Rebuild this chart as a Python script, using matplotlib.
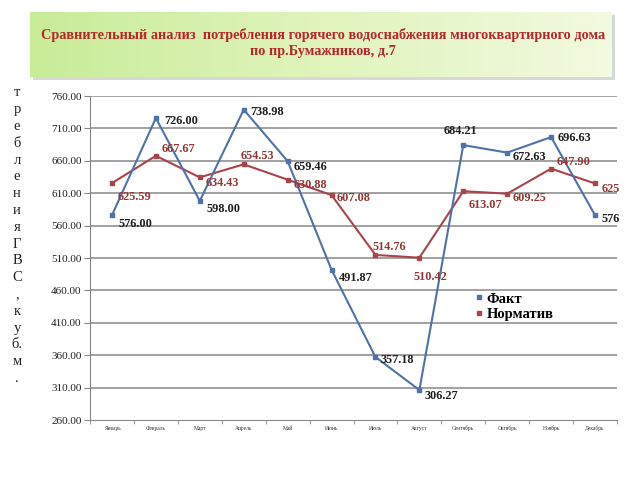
import numpy as np
import matplotlib
matplotlib.use('Agg')
import matplotlib.pyplot as plt
from matplotlib.patches import FancyBboxPatch

# ==============================
# Data
# ==============================
months = ['Январь', 'Февраль', 'Март', 'Апрель', 'Май', 'Июнь',
          'Июль', 'Август', 'Сентябрь', 'Октябрь', 'Ноябрь', 'Декабрь']
fact = [576.00, 726.00, 598.00, 738.98, 659.46, 491.87,
        357.18, 306.27, 684.21, 672.63, 696.63, 576]
norm = [625.59, 667.67, 634.43, 654.53, 630.88, 607.08,
        514.76, 510.42, 613.07, 609.25, 647.90, 625]
fact_txt = ['576.00', '726.00', '598.00', '738.98', '659.46', '491.87',
            '357.18', '306.27', '684.21', '672.63', '696.63', '576']
norm_txt = ['625.59', '667.67', '634.43', '654.53', '630.88', '607.08',
            '514.76', '510.42', '613.07', '609.25', '647.90', '625']
yticks = [260, 310, 360, 410, 460, 510, 560, 610, 660, 710, 760]

# label offsets (points) for each data label
fact_off = [(5, -6), (6, -2), (5, -6), (5, -2), (4, -4), (5, -6),
            (4, -2), (4, -4), (-14, 10), (4, -3), (5, -1), (5, -3)]
norm_off = [(4, -10), (4, 5), (4, -4), (-2, 6), (4, -4), (4, -2),
            (-2, 6), (-4, -14), (4, -10), (4, -3), (4, 5), (5, -4)]

BLUE = '#4F72A8'
RED = '#A8444C'
LBL_RED = '#943634'
SERIF = ['Liberation Serif', 'DejaVu Serif']

plt.rcParams['font.family'] = SERIF

fig = plt.figure(figsize=(6.4, 4.8), dpi=100)

# ==============================
# Title box (green gradient)
# ==============================
bg = fig.add_axes([0, 0, 1, 1], zorder=0)
bg.set_xlim(0, 640)
bg.set_ylim(480, 0)
bg.axis('off')
shadow = FancyBboxPatch((33, 15), 582, 65, boxstyle='square,pad=0',
                        facecolor='#D8D8D8', edgecolor='none')
bg.add_patch(shadow)
grad = np.linspace(0, 1, 256).reshape(1, -1)
cmap = matplotlib.colors.LinearSegmentedColormap.from_list(
    'g', ['#C8EC98', '#E0F4BC', '#F2FAE0'])
bg.imshow(grad, extent=[30, 612, 77, 12], cmap=cmap, aspect='auto', zorder=1)
bg.text(323, 35, 'Сравнительный анализ  потребления горячего водоснабжения многоквартирного дома',
        ha='center', va='center', color='#B8262A', fontsize=10.3, fontweight='bold', zorder=2)
bg.text(323, 52, 'по пр.Бумажников, д.7', ha='center', va='center',
        color='#B8262A', fontsize=10.3, fontweight='bold', zorder=2)

# vertical stacked y label
ylabel_chars = ['т', 'р', 'е', 'б', 'л', 'е', 'н', 'и', 'я', 'Г', 'В', 'С',
                ',', 'к', 'у', 'б.', 'м', '.']
for i, ch in enumerate(ylabel_chars):
    bg.text(17, 93 + i * 16.8, ch, ha='center', va='center', fontsize=10.5, color='#222222')

# ==============================
# Main chart
# ==============================
ax = fig.add_axes([90 / 640, 1 - 420 / 480, 527 / 640, 324 / 480], zorder=2)
ax.patch.set_alpha(0)
x = np.arange(len(months))

for yv in yticks[1:]:
    ax.axhline(yv, color='#9A9A9A', lw=1.3, zorder=1)

ax.plot(x, norm, color=RED, lw=1.5, marker='s', ms=3.5, zorder=3, label='Норматив')
ax.plot(x, fact, color=BLUE, lw=1.5, marker='s', ms=3.5, zorder=4, label='Факт')

for i in range(len(x)):
    ax.annotate(fact_txt[i], (x[i], fact[i]), xytext=fact_off[i], textcoords='offset points',
                fontsize=8.8, fontweight='bold', color='#1E1E1E', va='center', ha='left', zorder=5)
    ax.annotate(norm_txt[i], (x[i], norm[i]), xytext=norm_off[i], textcoords='offset points',
                fontsize=8.8, fontweight='bold', color=LBL_RED, va='center', ha='left', zorder=5)

ax.set_xlim(-0.5, 11.5)
ax.set_ylim(260, 760)
ax.set_yticks(yticks)
ax.set_yticklabels(['%.2f' % v for v in yticks], fontsize=8, color='#222222')
ax.set_xticks(x)
ax.set_xticklabels(months, fontsize=4, color='#333333')
ax.set_xticks(np.arange(-0.5, 12, 1), minor=True)
ax.tick_params(axis='x', which='major', length=0, pad=4)
ax.tick_params(axis='x', which='minor', length=3, color='#888888')
ax.tick_params(axis='y', length=4, color='#888888', pad=2)

for s in ['top', 'right']:
    ax.spines[s].set_visible(False)
ax.spines['left'].set_color('#888888')
ax.spines['bottom'].set_color('#888888')

handles, labels = ax.get_legend_handles_labels()
leg = ax.legend(handles[::-1], labels[::-1], loc='center left',
                bbox_to_anchor=(0.705, 0.35), frameon=False,
                handlelength=0.6, handletextpad=0.2, labelspacing=0.15,
                prop={'family': SERIF, 'weight': 'bold', 'size': 10.5})
for h in leg.legend_handles:
    h.set_linestyle('none')

fig.savefig('out.png', dpi=100)
